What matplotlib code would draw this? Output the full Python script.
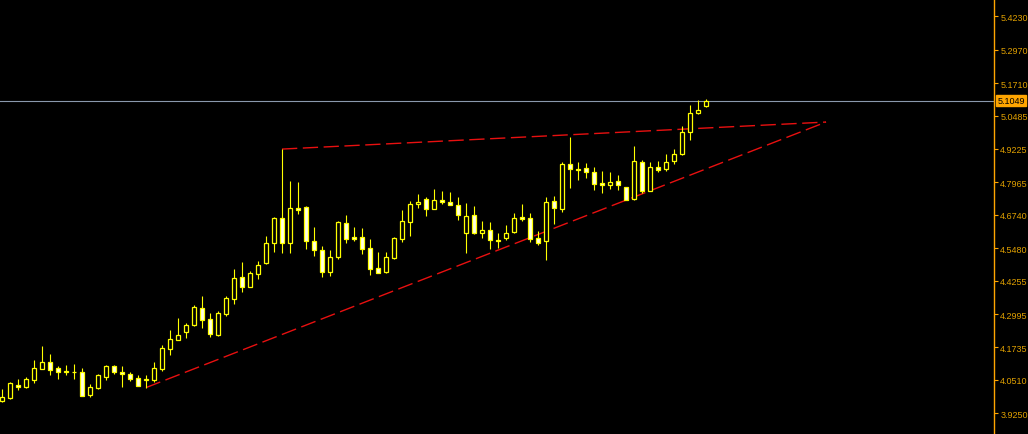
import matplotlib
matplotlib.use("Agg")
import matplotlib.pyplot as plt

# candle OHLC (oldest first)
opens = [3.973, 3.983, 4.032, 4.025, 4.052, 4.093, 4.119, 4.096, 4.083, 4.082,
         4.082, 3.993, 4.021, 4.063, 4.103, 4.080, 4.073, 4.058, 4.051, 4.052,
         4.093, 4.169, 4.203, 4.233, 4.259, 4.321, 4.281, 4.220, 4.301, 4.356,
         4.438, 4.403, 4.449, 4.491, 4.566, 4.661, 4.566, 4.700, 4.702, 4.574,
         4.540, 4.459, 4.516, 4.642, 4.589, 4.589, 4.548, 4.472, 4.459, 4.512,
         4.584, 4.646, 4.714, 4.733, 4.695, 4.729, 4.721, 4.710, 4.604, 4.673,
         4.604, 4.617, 4.580, 4.585, 4.608, 4.666, 4.662, 4.586, 4.574, 4.726,
         4.695, 4.865, 4.847, 4.849, 4.834, 4.793, 4.785, 4.800, 4.779, 4.733,
         4.872, 4.764, 4.853, 4.848, 4.876, 4.903, 4.985, 5.057, 5.083]
highs = [4.017, 4.044, 4.054, 4.061, 4.126, 4.179, 4.149, 4.103, 4.107, 4.111,
         4.096, 4.036, 4.073, 4.107, 4.107, 4.103, 4.081, 4.070, 4.070, 4.119,
         4.183, 4.239, 4.285, 4.266, 4.334, 4.368, 4.304, 4.312, 4.369, 4.470,
         4.496, 4.462, 4.500, 4.594, 4.665, 4.922, 4.802, 4.798, 4.707, 4.627,
         4.555, 4.541, 4.650, 4.673, 4.628, 4.624, 4.583, 4.534, 4.534, 4.589,
         4.692, 4.726, 4.753, 4.740, 4.771, 4.764, 4.760, 4.741, 4.719, 4.707,
         4.651, 4.647, 4.605, 4.636, 4.681, 4.715, 4.681, 4.613, 4.741, 4.745,
         4.872, 4.968, 4.873, 4.869, 4.853, 4.838, 4.834, 4.823, 4.780, 4.932,
         4.880, 4.872, 4.876, 4.903, 4.921, 5.008, 5.087, 5.106, 5.110]
lows = [3.969, 3.979, 4.014, 4.021, 4.039, 4.092, 4.070, 4.054, 4.070, 4.054,
        3.989, 3.987, 4.017, 4.052, 4.074, 4.024, 4.048, 4.029, 4.021, 4.044,
        4.083, 4.145, 4.203, 4.209, 4.254, 4.247, 4.214, 4.218, 4.291, 4.337,
        4.384, 4.403, 4.432, 4.487, 4.535, 4.531, 4.531, 4.678, 4.546, 4.520,
        4.440, 4.444, 4.508, 4.569, 4.576, 4.527, 4.448, 4.456, 4.456, 4.508,
        4.573, 4.595, 4.700, 4.671, 4.695, 4.716, 4.710, 4.653, 4.529, 4.600,
        4.585, 4.545, 4.548, 4.578, 4.604, 4.651, 4.573, 4.560, 4.505, 4.638,
        4.686, 4.775, 4.806, 4.814, 4.768, 4.757, 4.772, 4.768, 4.729, 4.729,
        4.757, 4.764, 4.834, 4.840, 4.865, 4.899, 4.955, 5.053, 5.080]
closes = [3.985, 4.039, 4.024, 4.054, 4.096, 4.119, 4.090, 4.080, 4.079, 4.081,
          3.992, 4.024, 4.070, 4.103, 4.079, 4.072, 4.056, 4.029, 4.054, 4.096,
          4.171, 4.205, 4.220, 4.258, 4.326, 4.278, 4.225, 4.304, 4.360, 4.436,
          4.403, 4.454, 4.483, 4.566, 4.661, 4.566, 4.699, 4.693, 4.574, 4.540,
          4.459, 4.514, 4.646, 4.582, 4.582, 4.546, 4.471, 4.456, 4.514, 4.585,
          4.650, 4.714, 4.721, 4.695, 4.729, 4.721, 4.710, 4.672, 4.668, 4.604,
          4.617, 4.578, 4.574, 4.605, 4.662, 4.658, 4.582, 4.566, 4.722, 4.699,
          4.865, 4.846, 4.844, 4.834, 4.791, 4.785, 4.797, 4.785, 4.729, 4.876,
          4.764, 4.853, 4.842, 4.872, 4.903, 4.985, 5.057, 5.068, 5.1049]

last_price = 5.1049
price_ticks = [5.4230, 5.2970, 5.1710, 5.0485, 4.9225, 4.7965, 4.6740,
               4.5480, 4.4255, 4.2995, 4.1735, 4.0510, 3.9250]

# trendlines: (bar index, price) pairs
upper_line = [(35, 4.922), (103, 5.024)]
lower_line = [(18, 4.022), (103, 5.024)]

BG = "black"
CANDLE = "#FFFF00"
AXIS = "#FFA500"

fig = plt.figure(figsize=(10.28, 4.35), dpi=100, facecolor=BG)
ax = fig.add_axes([0, 0, 994 / 1028, 1])
ax.set_facecolor(BG)

n = len(opens)
xs = list(range(n))

# wicks
ax.vlines(xs, lows, highs, color=CANDLE, linewidth=0.8, zorder=2)

# bodies
for i in xs:
    o, c = opens[i], closes[i]
    bottom = min(o, c)
    h = max(abs(c - o), 0.0015)
    face = BG if c > o else "#FFFFE8"
    ax.bar(i, h, bottom=bottom, width=0.62, facecolor=face,
           edgecolor=CANDLE, linewidth=0.9, zorder=3)

# trendlines
for line in (upper_line, lower_line):
    ax.plot([p[0] for p in line], [p[1] for p in line], color="#E81010",
            linewidth=1.0, linestyle=(0, (11, 4)), zorder=1)

# current price line
ax.axhline(last_price, color="#8A98AC", linewidth=0.8, zorder=1)

ax.set_xlim(-0.25, 124)
ax.set_ylim(3.8469, 5.4883)

for s in ("top", "bottom", "left"):
    ax.spines[s].set_visible(False)
ax.spines["right"].set_color(AXIS)
ax.spines["right"].set_linewidth(1.0)

ax.set_xticks([])
ax.yaxis.tick_right()
ax.set_yticks(price_ticks)
ax.set_yticklabels([f"{v:.4f}" for v in price_ticks])
ax.tick_params(axis="y", colors=AXIS, length=3, width=0.8, pad=1.5,
               labelsize=6.5, labelcolor="#E0A000")
for lbl in ax.get_yticklabels():
    lbl.set_family("Liberation Sans")

# highlighted last-price label
ax.annotate(f"{last_price:.4f}", xy=(1, last_price), xycoords=("axes fraction", "data"),
            xytext=(2.5, 0), textcoords="offset points", va="center", ha="left",
            fontsize=6.5, family="Liberation Sans", color="black",
            bbox=dict(boxstyle="square,pad=0.15", facecolor=AXIS, edgecolor=AXIS),
            annotation_clip=False)

fig.savefig("out.png", dpi=100, facecolor=BG)
